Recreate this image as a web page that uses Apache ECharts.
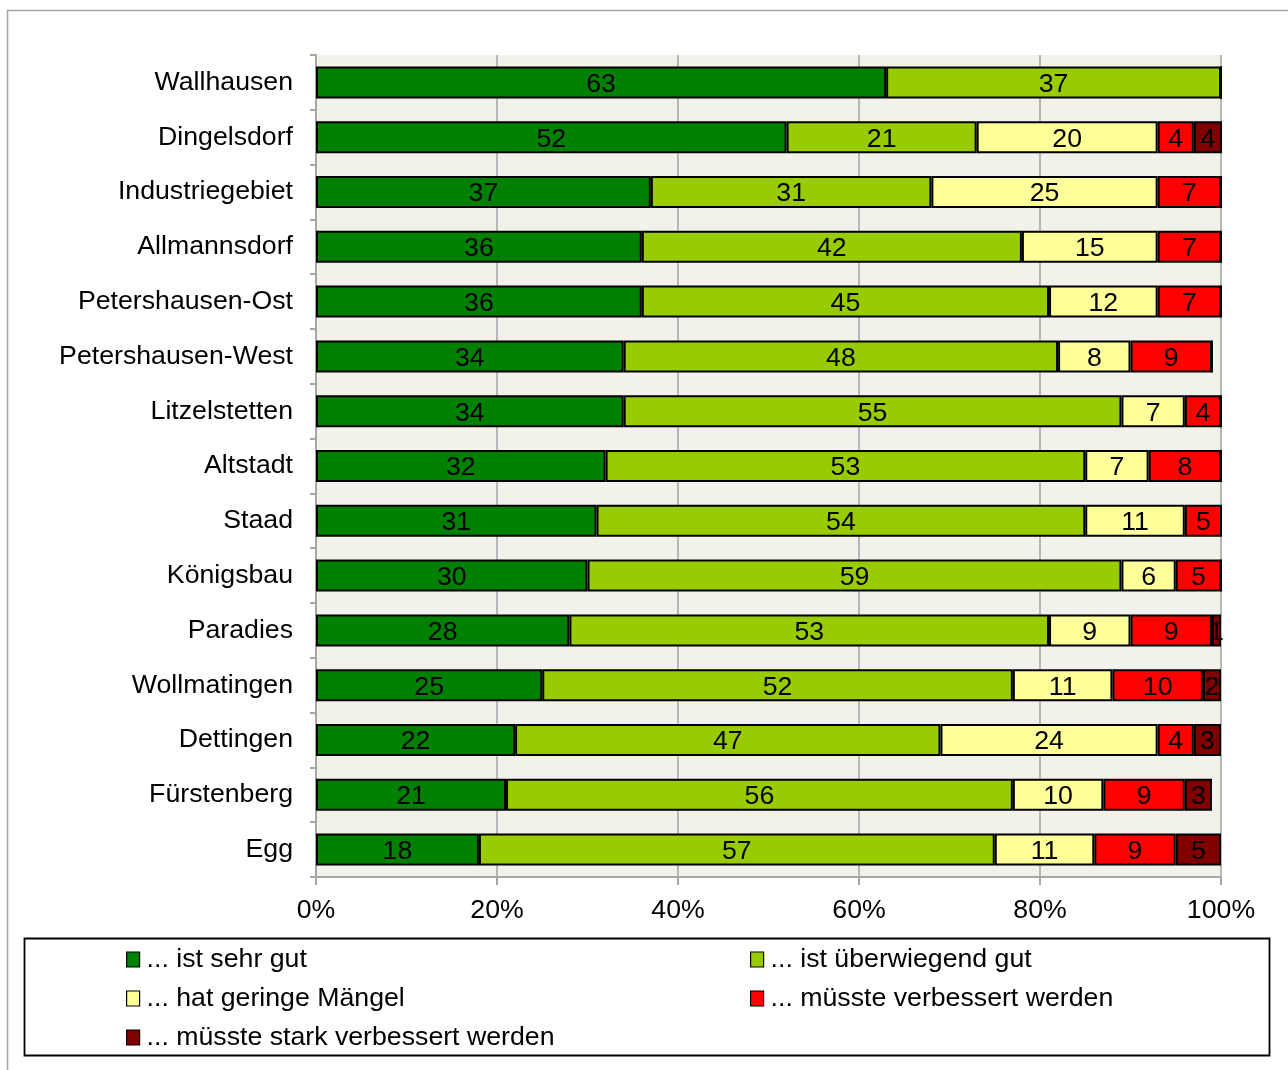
<!DOCTYPE html>
<html>
<head>
<meta charset="utf-8">
<script src="https://cdn.jsdelivr.net/npm/echarts@6/dist/echarts.min.js"></script>
<style>
  html, body { margin: 0; padding: 0; background: #fff; }
  #chart { width: 1288px; height: 1070px; }
</style>
</head>
<body>
<div id="chart"></div>
<script>
// Stadtteile, top to bottom
const districts = ['Wallhausen', 'Dingelsdorf', 'Industriegebiet', 'Allmannsdorf', 'Petershausen-Ost',
  'Petershausen-West', 'Litzelstetten', 'Altstadt', 'Staad', 'Königsbau', 'Paradies',
  'Wollmatingen', 'Dettingen', 'Fürstenberg', 'Egg'];

// Anteile in Prozent je Bewertungsstufe
const sehrGut        = [63, 52, 37, 36, 36, 34, 34, 32, 31, 30, 28, 25, 22, 21, 18];
const ueberwiegend   = [37, 21, 31, 42, 45, 48, 55, 53, 54, 59, 53, 52, 47, 56, 57];
const geringeMaengel = [0, 20, 25, 15, 12, 8, 7, 7, 11, 6, 9, 11, 24, 10, 11];
const verbessern     = [0, 4, 7, 7, 7, 9, 4, 8, 5, 5, 9, 10, 4, 9, 9];
const starkVerbessern= [0, 4, 0, 0, 0, 0, 0, 0, 0, 0, 1, 2, 3, 3, 5];

const seriesNames = ['... ist sehr gut', '... ist überwiegend gut', '... hat geringe Mängel',
  '... müsste verbessert werden', '... müsste stark verbessert werden'];
const seriesColors = ['#008000', '#99cc00', '#ffff99', '#ff0000', '#800000'];
const seriesData = [sehrGut, ueberwiegend, geringeMaengel, verbessern, starkVerbessern];

const FONT = '"Liberation Sans", Arial, sans-serif';
const FS = 26.7;

const chart = echarts.init(document.getElementById('chart'), null, { renderer: 'canvas' });

const series = seriesData.map((data, i) => ({
  name: seriesNames[i],
  type: 'bar',
  stack: 'total',
  data: data,
  barWidth: 32,
  itemStyle: { color: seriesColors[i], borderColor: '#000', borderWidth: 2 },
  label: {
    show: true,
    position: 'inside',
    color: '#000',
    fontSize: FS,
    fontFamily: FONT,
    offset: [0, 2],
    formatter: p => (p.value > 0 ? String(p.value) : '')
  },
  emphasis: { disabled: true }
}));

const legendText = { fontSize: FS, fontFamily: FONT, color: '#000', lineHeight: 29, padding: [0, 0, 0, 2] };
const legendItem = { borderColor: '#000', borderWidth: 1.2 };

chart.setOption({
  animation: false,
  backgroundColor: '#fff',
  graphic: [
    // outer frame
    { type: 'rect', shape: { x: 7.5, y: 10.5, width: 1300, height: 1100 },
      style: { fill: 'none', stroke: '#a6a6a6', lineWidth: 1.5 }, silent: true, z: -10 },
    // legend box
    { type: 'rect', shape: { x: 24.5, y: 938.5, width: 1245, height: 117 },
      style: { fill: '#fff', stroke: '#000', lineWidth: 1.8 }, silent: true, z: -5 }
  ],
  grid: {
    left: 316, right: 67, top: 55, bottom: 193,
    show: true, backgroundColor: '#f3f2ea', borderWidth: 0
  },
  legend: [
    {
      data: [seriesNames[0], seriesNames[2], seriesNames[4]],
      orient: 'vertical', left: 126, top: 945,
      itemWidth: 13, itemHeight: 15, itemGap: 10, padding: 0,
      textStyle: legendText,
      itemStyle: legendItem,
      icon: 'rect', selectedMode: false
    },
    {
      data: [seriesNames[1], seriesNames[3]],
      orient: 'vertical', left: 750, top: 945,
      itemWidth: 13, itemHeight: 15, itemGap: 10, padding: 0,
      textStyle: legendText,
      itemStyle: legendItem,
      icon: 'rect', selectedMode: false
    }
  ],
  xAxis: {
    type: 'value',
    min: 0, max: 100, interval: 20,
    axisLine: { show: true, lineStyle: { color: '#a6a6a6', width: 2 } },
    axisTick: { show: true, length: 8, lineStyle: { color: '#a6a6a6', width: 2 } },
    splitLine: { show: true, lineStyle: { color: '#b8b8b8', width: 2 } },
    axisLabel: { formatter: '{value}%', fontSize: FS, fontFamily: FONT, color: '#000', margin: 20 }
  },
  yAxis: {
    type: 'category',
    data: districts,
    inverse: true,
    axisLine: { show: true, lineStyle: { color: '#a6a6a6', width: 2 } },
    axisTick: { show: true, length: 6, lineStyle: { color: '#a6a6a6', width: 2 } },
    axisLabel: { fontSize: FS, fontFamily: FONT, color: '#000', margin: 23 }
  },
  series: series
});
</script>
</body>
</html>
